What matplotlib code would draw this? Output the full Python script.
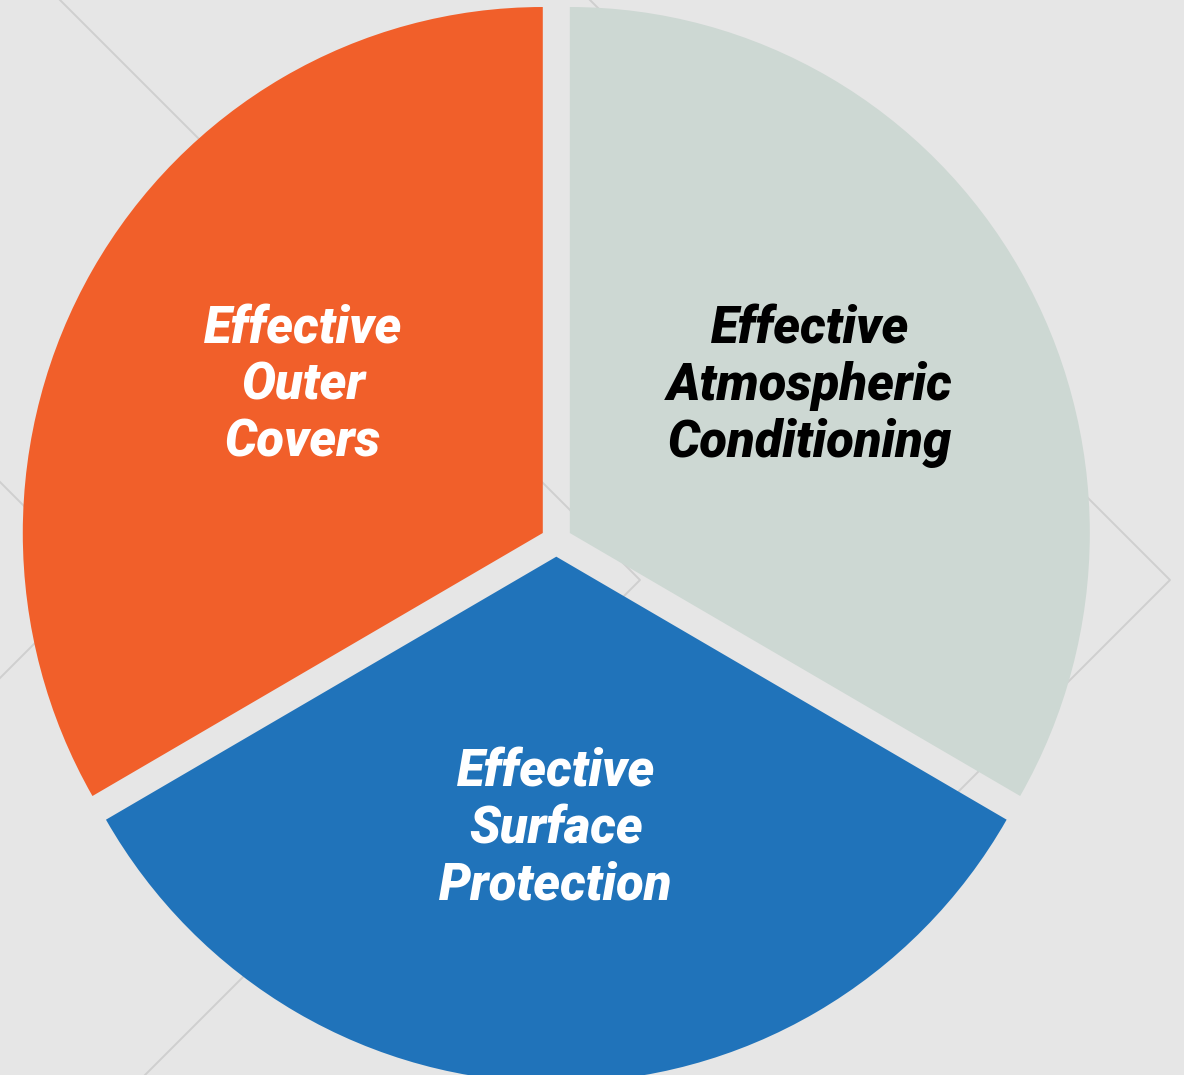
import matplotlib
matplotlib.use("Agg")
import matplotlib.pyplot as plt

# three equal parts
labels = ["Effective\nOuter\nCovers",
          "Effective\nSurface\nProtection",
          "Effective\nAtmospheric\nConditioning"]
shares = [1, 1, 1]
colors = ["#f15f2a", "#2073ba", "#cdd8d3"]
text_colors = ["white", "white", "black"]

W, H = 1184, 1075
cx, cy = 556.3, 540.9      # pie centre in pixels (from top)
rx, ry = 520.0, 526.0      # pixel size of one data unit

fig = plt.figure(figsize=(W / 100, H / 100), dpi=100)
fig.patch.set_facecolor("#e6e6e6")

# faint background diamonds, pixel coordinates
bg = fig.add_axes([0, 0, 1, 1], zorder=0)
bg.set_xlim(0, W)
bg.set_ylim(H, 0)
bg.axis("off")
line_kw = dict(color="#cfcfcf", lw=1.4, solid_joinstyle="round")
bg.plot([60, 640, 140], [0, 580, 1080], **line_kw)
bg.plot([590, 1170, 850], [0, 580, 900], **line_kw)
bg.plot([0, 98, 0], [482, 580, 678], **line_kw)

ax = fig.add_axes([0, 0, 1, 1], zorder=1)
ax.patch.set_alpha(0)
wedges, _ = ax.pie(shares, colors=colors, startangle=90, counterclock=True,
                   radius=1.0, explode=[0.03] * 3, frame=False)
ax.set_aspect("auto")
ax.set_xlim(-cx / rx, (W - cx) / rx)
ax.set_ylim(-(H - cy) / ry, cy / ry)
ax.axis("off")

# label positions (pixels) for each wedge
label_px = [(303, 386), (556, 829), (810, 386)]
for lab, tc, (px, py) in zip(labels, text_colors, label_px):
    ax.text((px - cx) / rx, (cy - py) / ry, lab, color=tc,
            ha="center", va="center", multialignment="center",
            fontsize=36.5, fontweight="black", fontstyle="italic",
            family=["Roboto", "DejaVu Sans"], linespacing=1.17)

fig.savefig("out.png", dpi=100, facecolor=fig.get_facecolor())
